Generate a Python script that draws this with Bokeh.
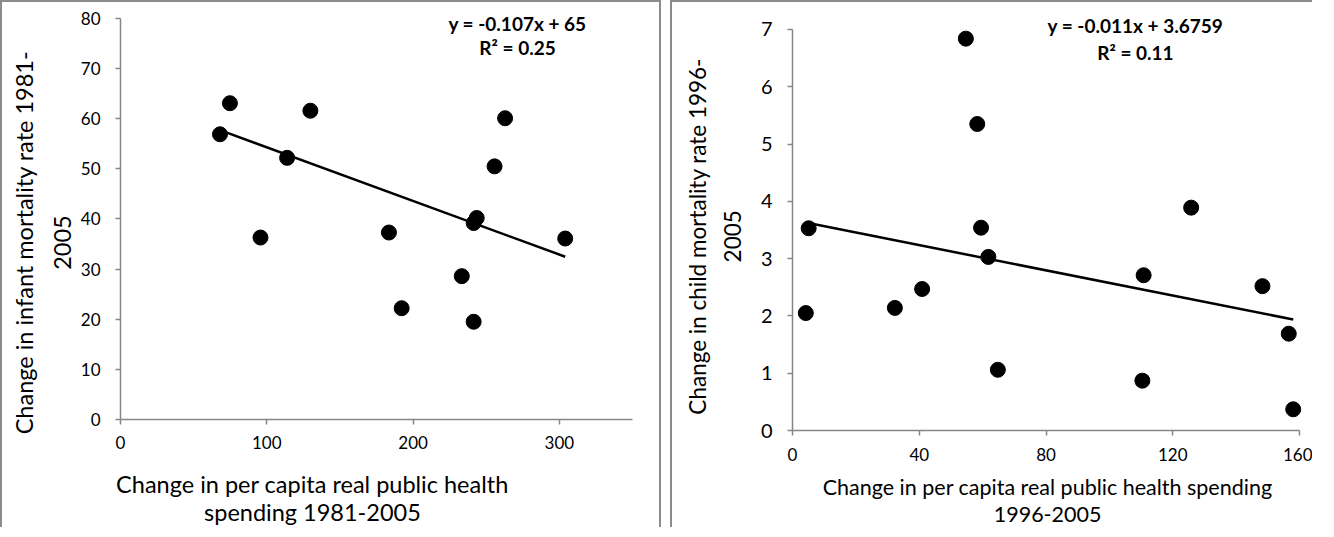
import math
from bokeh.plotting import figure
from bokeh.layouts import row
from bokeh.models import Range1d, FixedTicker, Label
from bokeh.embed import file_html
from bokeh.resources import INLINE

# ---------------- data ----------------
left_x = [68.0, 74.8, 95.7, 113.9, 129.8, 183.5, 192.2, 233.3, 241.4, 241.4, 243.5, 255.7, 262.9, 304.0]
left_y = [56.9, 63.1, 36.3, 52.2, 61.6, 37.3, 22.2, 28.6, 19.5, 39.2, 40.2, 50.5, 60.1, 36.1]
left_slope, left_intercept = -0.107, 65.0
left_eq = "y = -0.107x + 65"
left_r2 = "R\u00b2 = 0.25"
left_xticks = [0, 100, 200, 300]
left_yticks = [0, 10, 20, 30, 40, 50, 60, 70, 80]
left_xtitle = ["Change in per capita real public health", "spending 1981-2005"]
left_ytitle = ["Change in infant mortality rate 1981-", "2005"]

right_x = [4.2, 5.1, 32.3, 40.9, 54.7, 58.3, 59.5, 61.8, 64.8, 110.8, 110.4, 125.8, 148.3, 156.6, 158.0]
right_y = [2.05, 3.53, 2.14, 2.47, 6.84, 5.35, 3.54, 3.03, 1.06, 2.71, 0.87, 3.89, 2.52, 1.69, 0.37]
right_slope, right_intercept = -0.011, 3.6759
right_eq = "y = -0.011x + 3.6759"
right_r2 = "R\u00b2 = 0.11"
right_xticks = [0, 40, 80, 120, 160]
right_yticks = [0, 1, 2, 3, 4, 5, 6, 7]
right_xtitle = ["Change in per capita real public health spending", "1996-2005"]
right_ytitle = ["Change in child mortality rate 1996-", "2005"]

FONT = "Lato"
AXIS_COL = "#868686"
BORDER = "2px solid #8c8c8c"


def label(p, x, y, text, size, bold=False, angle=0.0):
    p.add_layout(Label(x=x, y=y, text=text, angle=angle, text_align="center",
                       text_baseline="middle", text_font=FONT,
                       text_font_style="bold" if bold else "normal",
                       text_font_size=f"{size}px", text_color="black"))


def make_panel(cfg):
    p = figure(width=cfg["width"], height=cfg["height"], output_backend="svg",
               toolbar_location=None, x_range=Range1d(*cfg["xr"]), y_range=Range1d(*cfg["yr"]),
               min_border=0)
    p.styles = cfg["border_style"]
    p.outline_line_color = None
    p.xgrid.visible = False
    p.ygrid.visible = False
    p.background_fill_color = "white"
    p.border_fill_color = "white"

    for ax, ticks, size, bnds, stand in ((p.xaxis, cfg["xticks"], cfg["xtick_size"], cfg["xbounds"], cfg["xstand"]),
                                         (p.yaxis, cfg["yticks"], cfg["ytick_size"], cfg["ybounds"], cfg["ystand"])):
        ax.fixed_location = 0
        ax.ticker = FixedTicker(ticks=ticks)
        ax.bounds = bnds
        ax.minor_tick_line_color = None
        ax.axis_line_color = AXIS_COL
        ax.axis_line_width = 1.5
        ax.major_tick_line_color = AXIS_COL
        ax.major_tick_line_width = 1.5
        ax.major_tick_in = 0
        ax.major_tick_out = 5
        ax.major_label_standoff = stand
        ax.major_label_text_font = FONT
        ax.major_label_text_font_size = f"{size}px"
        ax.major_label_text_color = "black"

    xs, ys = cfg["xs"], cfg["ys"]
    x0, x1 = min(xs), max(xs)
    slope, icpt = cfg["slope"], cfg["intercept"]
    p.line([x0, x1], [slope * x0 + icpt, slope * x1 + icpt], line_color="black", line_width=2.5)
    p.scatter(xs, ys, size=15, color="black")

    label(p, *cfg["eq_pos"], cfg["eq"], 19, bold=True)
    label(p, *cfg["r2_pos"], cfg["r2"], 19, bold=True)
    for (lx, ly), txt in zip(cfg["xtitle_pos"], cfg["xtitle"]):
        label(p, lx, ly, txt, cfg["xtitle_size"])
    for (lx, ly), txt in zip(cfg["ytitle_pos"], cfg["ytitle"]):
        label(p, lx, ly, txt, cfg["ytitle_size"], angle=math.pi / 2)
    return p


p1 = make_panel(dict(
    xs=left_x, ys=left_y, slope=left_slope, intercept=left_intercept,
    eq=left_eq, r2=left_r2, xticks=left_xticks, yticks=left_yticks,
    xtitle=left_xtitle, ytitle=left_ytitle,
    width=661, height=527, xr=(-80.66, 371.18), yr=(-21.945, 83.19),
    xbounds=(0, 350), ybounds=(0, 80),
    xtick_size=17, ytick_size=17, xstand=12, ystand=15,
    xtitle_size=23.5, ytitle_size=23.5,
    eq_pos=(271.4, 79.0), r2_pos=(271.4, 74.2),
    xtitle_pos=[(131.2, -12.77), (131.2, -18.55)],
    ytitle_pos=[(-66.3, 35.3), (-39.6, 35.3)],
    border_style={"border-left": BORDER, "border-top": BORDER, "border-right": BORDER}))

p2 = make_panel(dict(
    xs=right_x, ys=right_y, slope=right_slope, intercept=right_intercept,
    eq=right_eq, r2=right_r2, xticks=right_xticks, yticks=right_yticks,
    xtitle=right_xtitle, ytitle=right_ytitle,
    width=642, height=527, xr=(-37.87, 164.72), yr=(-1.728, 7.471),
    xbounds=(0, 160), ybounds=(0, 7),
    xtick_size=17, ytick_size=20, xstand=12, ystand=15,
    xtitle_size=21.5, ytitle_size=22.5,
    eq_pos=(108.2, 7.07), r2_pos=(108.2, 6.60),
    xtitle_pos=[(80.5, -0.978), (80.5, -1.466)],
    ytitle_pos=[(-30.1, 3.39), (-18.9, 3.39)],
    border_style={"border-left": BORDER, "border-top": BORDER}))

layout = row(p1, p2, spacing=9)
open("out.html", "w").write(file_html(layout, INLINE))
